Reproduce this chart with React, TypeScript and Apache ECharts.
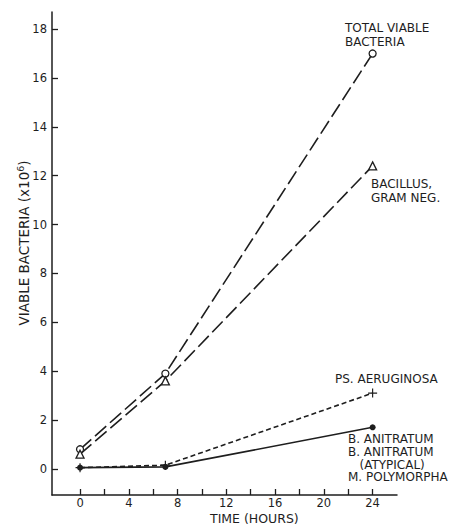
import React, { useEffect, useRef } from "react";
import * as echarts from "echarts";

const hours = [0, 7, 24];
const totalViable = [0.8, 3.9, 17.0];
const bacillusGramNeg = [0.6, 3.6, 12.4];
const psAeruginosa = [0.05, 0.15, 3.1];
const bAnitratum = [0.05, 0.08, 1.7];

const xTickValues = [0, 2, 4, 6, 8, 10, 12, 14, 16, 18, 20, 22, 24];
const xLabelValues = [0, 4, 8, 12, 16, 20, 24];
const yTickValues = [0, 2, 4, 6, 8, 10, 12, 14, 16, 18];

const INK = "#1e1e1e";
const FONT = "DejaVu Sans";

const pairs = (ys: number[]) => hours.map((h, i) => [h, ys[i]]);

const PLUS = "path://M-1,-0.13H1V0.13H-1ZM-0.13,-1H0.13V1H-0.13Z";

export default function App() {
  const ref = useRef<HTMLDivElement>(null);
  useEffect(() => {
    if (!ref.current) return;
    const chart = echarts.init(ref.current, undefined, { renderer: "svg" });
    const txt = { fill: INK, fontFamily: FONT, fontSize: 12, fontWeight: "normal" };
    chart.setOption({
      animation: false,
      backgroundColor: "#ffffff",
      grid: { left: 52, top: 12, width: 345, height: 483 },
      xAxis: {
        type: "value",
        min: -2.3,
        max: 26,
        splitLine: { show: false },
        axisLine: { onZero: false, lineStyle: { color: INK, width: 1.5 } },
        axisTick: { customValues: xTickValues, inside: true, length: 6, lineStyle: { color: INK, width: 1.3 } },
        axisLabel: { customValues: xLabelValues, margin: 2, color: INK, fontFamily: FONT, fontSize: 11.5 },
      },
      yAxis: {
        type: "value",
        min: -1.07,
        max: 18.7,
        splitLine: { show: false },
        axisLine: { onZero: false, lineStyle: { color: INK, width: 1.5 } },
        axisTick: { customValues: yTickValues, inside: true, length: 6, lineStyle: { color: INK, width: 1.3 } },
        axisLabel: { customValues: yTickValues, margin: 5, color: INK, fontFamily: FONT, fontSize: 11.5 },
      },
      series: [
        {
          name: "TOTAL VIABLE BACTERIA",
          type: "line",
          data: pairs(totalViable),
          symbol: "circle",
          symbolSize: 7,
          itemStyle: { color: "#ffffff", borderColor: INK, borderWidth: 1.3 },
          lineStyle: { color: INK, width: 1.6, type: [15, 5] },
          z: 3,
        },
        {
          name: "BACILLUS, GRAM NEG.",
          type: "line",
          data: pairs(bacillusGramNeg),
          symbol: "triangle",
          symbolSize: 8,
          itemStyle: { color: "#ffffff", borderColor: INK, borderWidth: 1.3 },
          lineStyle: { color: INK, width: 1.6, type: [15, 5] },
          z: 3,
        },
        {
          name: "PS. AERUGINOSA",
          type: "line",
          data: pairs(psAeruginosa),
          symbol: PLUS,
          symbolSize: 9,
          itemStyle: { color: INK },
          lineStyle: { color: INK, width: 1.6, type: [5, 3] },
          z: 2,
        },
        {
          name: "B. ANITRATUM",
          type: "line",
          data: pairs(bAnitratum),
          symbol: "circle",
          symbolSize: 6,
          itemStyle: { color: INK },
          lineStyle: { color: INK, width: 1.6, type: "solid" },
          z: 2,
        },
      ],
      graphic: [
        { type: "text", left: 345, top: 21, style: { ...txt, text: "TOTAL VIABLE\nBACTERIA", lineHeight: 14 } },
        { type: "text", left: 371, top: 177, style: { ...txt, text: "BACILLUS,\nGRAM NEG.", lineHeight: 14 } },
        { type: "text", left: 335, top: 373, style: { ...txt, text: "PS. AERUGINOSA" } },
        {
          type: "text",
          left: 348,
          top: 433,
          style: { ...txt, text: "B. ANITRATUM\nB. ANITRATUM\n   (ATYPICAL)\nM. POLYMORPHA", lineHeight: 12.7 },
        },
        { type: "text", left: 210, top: 512, style: { ...txt, fontSize: 12.5, text: "TIME (HOURS)" } },
        {
          type: "text",
          x: 24,
          y: 243,
          rotation: Math.PI / 2,
          style: {
            text: "{a|VIABLE BACTERIA (x10}{s|6}{a|)}",
            align: "center",
            verticalAlign: "middle",
            rich: {
              a: { fill: INK, fontFamily: FONT, fontSize: 13.5 },
              s: { fill: INK, fontFamily: FONT, fontSize: 9.5, verticalAlign: "top", padding: [0, 0, 7, 0] },
            },
          },
        },
      ],
    });
    return () => chart.dispose();
  }, []);
  return <div ref={ref} style={{ position: "fixed", left: 0, top: 0, width: 451, height: 525 }} />;
}
